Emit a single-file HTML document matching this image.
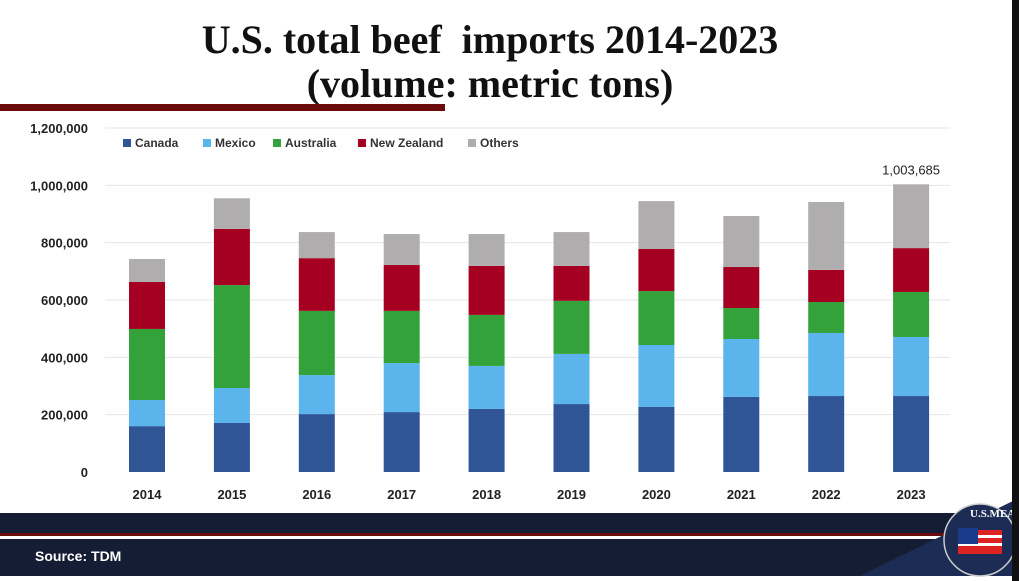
<!DOCTYPE html>
<html><head><meta charset="utf-8"><style>
body{margin:0;background:#fff;width:1019px;height:581px;overflow:hidden;position:relative;font-family:"Liberation Sans",sans-serif}
.t{position:absolute;left:0;width:980px;text-align:center;font-family:"Liberation Serif",serif;font-weight:bold;font-size:40px;color:#111;line-height:44px}
</style></head><body>
<div class="t" style="top:18px">U.S. total beef&nbsp; imports 2014-2023<br>(volume: metric tons)</div>
<div style="position:absolute;left:0;top:104px;width:445px;height:7px;background:#6b0a0a"></div>
<svg id="c" width="1019" height="581" style="position:absolute;left:0;top:0"></svg>
<script>
const years=["2014","2015","2016","2017","2018","2019","2020","2021","2022","2023"];
const canada=[160000,171000,202000,209000,220000,237000,227000,262000,265000,265000];
const mexico=[91000,122000,136000,171000,150000,175000,216000,202000,220000,206000];
const australia=[248000,359000,224000,182000,178000,185000,188000,108000,108000,157000];
const newZealand=[164000,196000,184000,160000,171000,122000,147000,143000,112000,153000];
const others=[80000,107000,91000,108000,111000,118000,167000,178000,237000,222685];
const yTicks=[0,200000,400000,600000,800000,1000000,1200000];
const series=[["Canada",canada,"#2f5597"],["Mexico",mexico,"#5bb4ec"],["Australia",australia,"#33a23a"],["New Zealand",newZealand,"#a50021"],["Others",others,"#b0adae"]];
const svg=document.getElementById('c');const NS="http://www.w3.org/2000/svg";
const y0=472,ymax=1200000,ph=344;
const Y=v=>y0-v/ymax*ph;
const X=i=>147+i*84.9;
function mk(t,a){const e=document.createElementNS(NS,t);for(const k in a)e.setAttribute(k,a[k]);svg.appendChild(e);return e;}
yTicks.forEach(v=>{
 if(v>0){const g=mk('line',{x1:105,x2:950,y1:Y(v),y2:Y(v),stroke:'#e4e4e4','stroke-width':1});
 
 }
 const t=mk('text',{x:88,y:Y(v)+5,'text-anchor':'end','font-size':13,'font-weight':'bold',fill:'#222'});
 t.textContent=v.toLocaleString('en-US');
 
 
});
years.forEach((yr,i)=>{
 let cum=0;
 series.forEach(s=>{const v=s[1][i];
  const r=mk('rect',{x:X(i)-18,y:Y(cum+v),width:36,height:Y(cum)-Y(cum+v),fill:s[2]});
  
  
  cum+=v;});
 const t=mk('text',{x:X(i),y:499,'text-anchor':'middle','font-size':13,'font-weight':'bold',fill:'#222'});
 t.textContent=yr;
 
 
 if(i===years.length-1){const l=mk('text',{x:X(i),y:Y(cum)-10,'text-anchor':'middle','font-size':13,fill:'#222'});
  l.textContent=Math.round(cum).toLocaleString('en-US');
  
  }
});
const lx=[123,203,273,358,468];
series.forEach((s,i)=>{
 const r=mk('rect',{x:lx[i],y:139,width:8,height:8,fill:s[2]});
 
 
 const t=mk('text',{x:lx[i]+12,y:147,'font-size':12,'font-weight':'bold',fill:'#333'});
 t.textContent=s[0];
 
 
});
</script>
<svg width="1019" height="581" style="position:absolute;left:0;top:0">
<rect x="0" y="513" width="1019" height="20" fill="#141d33"/>
<rect x="0" y="533" width="1019" height="3" fill="#6b0a0a"/>
<rect x="0" y="536" width="1019" height="3" fill="#fff"/>
<rect x="0" y="539" width="1019" height="37" fill="#141d33"/>
<polygon points="905,513 1019,513 1019,486" fill="#fff"/>
<polygon points="860,576 1019,576 1019,498" fill="#1c2c55"/>
<circle cx="980" cy="540" r="36" fill="#1c2c55" stroke="#ccc" stroke-width="1.5"/>
<rect x="958" y="530" width="44" height="24" fill="#d22"/>
<rect x="958" y="535" width="44" height="3" fill="#fff"/><rect x="958" y="543" width="44" height="3" fill="#fff"/>
<rect x="958" y="528" width="20" height="16" fill="#1b3a8a"/>
<text x="970" y="517" fill="#fff" font-family="Liberation Serif,serif" font-size="11" font-weight="bold">U.S.MEAT</text>
<rect x="1012" y="0" width="7" height="581" fill="#111"/>
</svg>
<div style="position:absolute;left:35px;top:548px;color:#fff;font-weight:bold;font-size:14px">Source: TDM</div>
</body></html>
